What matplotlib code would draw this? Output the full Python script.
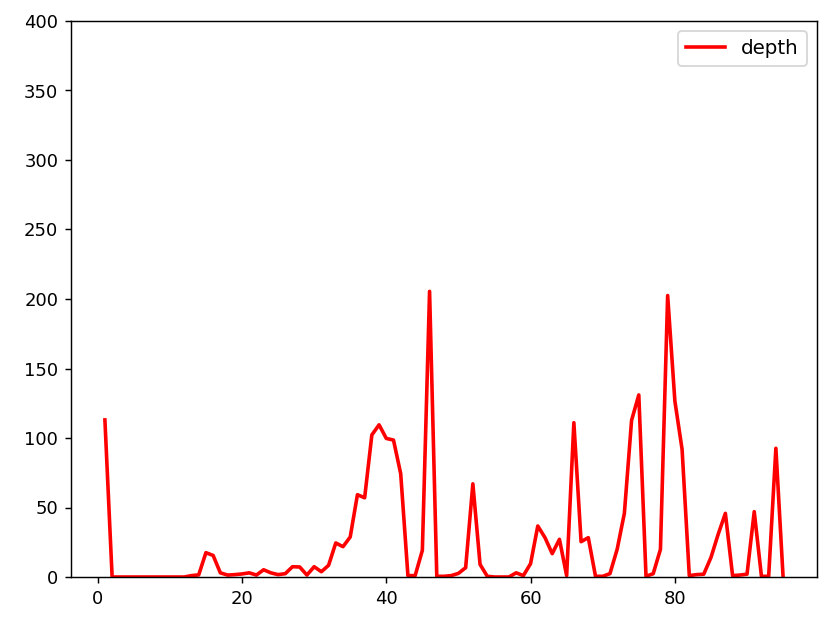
import matplotlib
matplotlib.use("Agg")
import matplotlib.pyplot as plt

x = list(range(1, 96))
depth = [113, 0, 0, 0, 0, 0, 0, 0, 0, 0,
         0, 0, 1, 1.5, 17.5, 15.5, 3, 1.4, 1.7, 2.2,
         3, 1.4, 5.2, 3, 1.7, 2.4, 7.4, 7.2, 1.4, 7.4,
         3.8, 8.4, 24.5, 21.8, 28.8, 59.2, 57, 102.2, 109.5, 99.7,
         98.5, 74.3, 1, 1, 19.2, 205.5, 0.5, 0.5, 1, 2.6,
         6.7, 67, 9, 0.5, 0, 0, 0, 3, 1, 9.6,
         36.7, 28.3, 16.8, 27.1, 1, 111, 25.4, 28.3, 0.5, 0.5,
         2.4, 19.9, 45.8, 112.7, 131, 0.5, 2.4, 19.9, 202.5, 126.6,
         91.8, 1, 1.7, 2, 14, 30.7, 45.8, 1, 1.4, 2,
         47, 0.5, 0.5, 92.6, 0]

fig = plt.figure(figsize=(831/130, 620/130), dpi=130)
ax = fig.add_axes([71/831, 43/620, 746/831, 556/620])
ax.plot(x, depth, color='red', linewidth=2, label='depth')
ax.set_ylim(0, 400)
ax.legend(loc='upper right', fontsize=11)
fig.savefig('out.png', dpi=130)
